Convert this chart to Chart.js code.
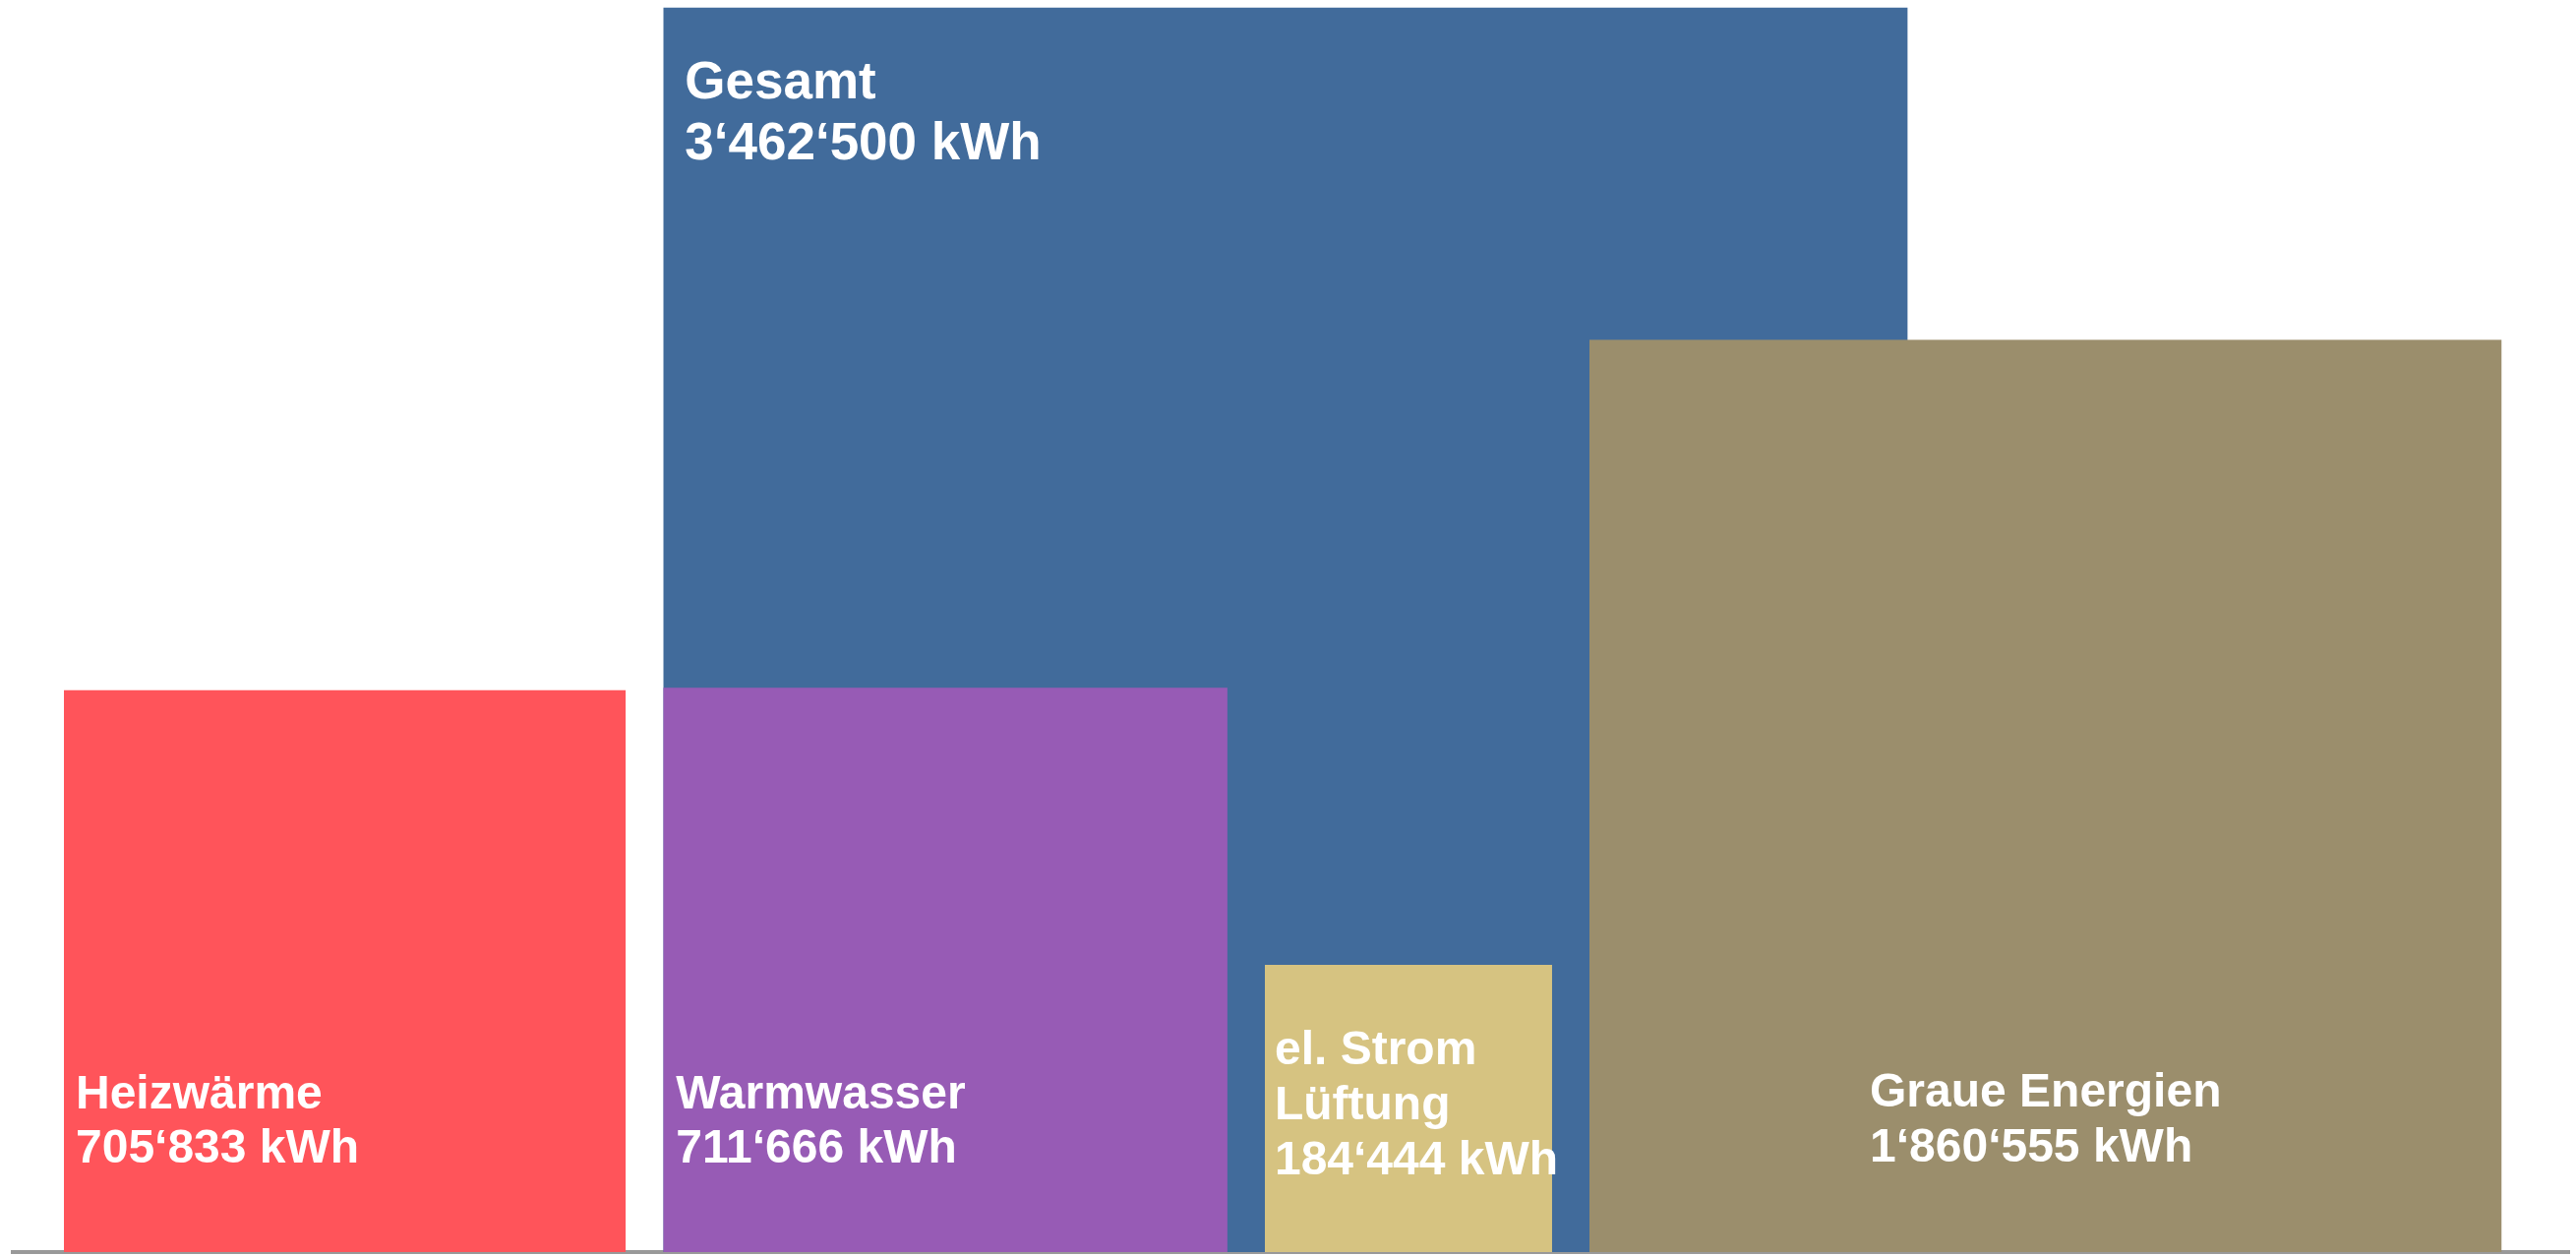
<!DOCTYPE html>
<html>
<head>
<meta charset="utf-8">
<script src="https://cdn.jsdelivr.net/npm/chart.js@4.4.1/dist/chart.umd.min.js"></script>
<style>
  html, body { margin: 0; padding: 0; background: #fff; }
  canvas { display: block; }
</style>
</head>
<body>
<canvas id="myChart" width="2619" height="1276"></canvas>
<script>
// data
const categories = [['Gesamt'], ['Heizwärme'], ['Warmwasser'], ['el. Strom', 'Lüftung'], ['Graue Energien']];
const values = [3462500, 705833, 711666, 184444, 1860555];
const unit = 'kWh';
const colors = ['#416b9b', '#ff545a', '#975bb5', '#d6c381', '#9b8e6c'];

// layout: box side grows with sqrt(value), so area ~ value
const k = 0.68;
const startX = 52;
const gap = 38;
function side(v) { return k * Math.sqrt(v); }

let left = [];
left[1] = startX;
left[0] = left[1] + side(values[1]) + gap;
left[2] = left[0];
left[3] = left[2] + side(values[2]) + gap;
left[4] = left[3] + side(values[3]) + gap;

// label placement per box
const labelPos = [
    { dx: 22, fromTop: 92, lh: 62, size: 53 },
    { dx: 12, fromBottom: 91, lh: 55, size: 48 },
    { dx: 13, fromBottom: 91, lh: 55, size: 48 },
    { dx: 10, fromBottom: 79, lh: 56, size: 48 },
    { center: true, fromBottom: 92, lh: 56, size: 48 }
];

function fmt(v) {
    return String(v).replace(/\B(?=(\d{3})+(?!\d))/g, '\u2018') + ' ' + unit;
}

// Gesamt last so it is drawn behind everything
const drawOrder = [1, 2, 3, 4, 0];
const datasets = drawOrder.map(i => ({
    label: categories[i].join(' '),
    data: [
        { x: left[i], y: side(values[i]) },
        { x: left[i] + side(values[i]), y: side(values[i]) }
    ],
    backgroundColor: colors[i],
    borderColor: 'transparent',
    borderWidth: 0,
    pointRadius: 0,
    tension: 0,
    fill: 'origin'
}));

const boxLabels = {
    id: 'boxLabels',
    afterDatasetsDraw(chart) {
        const ctx = chart.ctx;
        const xs = chart.scales.x, ys = chart.scales.y;
        ctx.save();
        ctx.fillStyle = '#fff';
        ctx.textBaseline = 'alphabetic';
        ctx.textAlign = 'left';
        values.forEach((v, i) => {
            const p = labelPos[i];
            const s = side(v);
            const x0 = xs.getPixelForValue(left[i]);
            const x1 = xs.getPixelForValue(left[i] + s);
            const top = ys.getPixelForValue(s);
            const bottom = ys.getPixelForValue(0);
            const lines = categories[i].concat([fmt(v)]);
            ctx.font = 'bold ' + p.size + 'px "Liberation Sans", Arial, sans-serif';
            let tx, y;
            if (p.center) {
                // block centred in the box, lines left aligned
                const w = Math.max(...lines.map(t => ctx.measureText(t).width));
                tx = (x0 + x1) / 2 - w / 2;
            } else {
                tx = x0 + p.dx;
            }
            if (p.fromTop !== undefined) y = top + p.fromTop;
            else y = bottom - p.fromBottom - p.lh * (lines.length - 1);
            lines.forEach((t, j) => ctx.fillText(t, tx, y + j * p.lh));
        });
        ctx.restore();
    }
};

var ctx = document.getElementById('myChart').getContext('2d');
var myChart = new Chart(ctx, {
    type: 'line',
    data: { datasets: datasets },
    options: {
        responsive: false,
        animation: false,
        devicePixelRatio: 1,
        layout: { padding: { left: 13, right: 7, top: 0, bottom: 3 } },
        plugins: {
            legend: { display: false },
            tooltip: { enabled: false }
        },
        scales: {
            x: {
                type: 'linear',
                min: 0,
                max: 2599,
                ticks: { display: false },
                grid: { display: false, drawTicks: false, tickLength: 0 },
                border: { display: true, color: '#999999', width: 4 }
            },
            y: {
                display: false,
                min: 0,
                max: 1273
            }
        }
    },
    plugins: [boxLabels]
});
</script>
</body>
</html>
